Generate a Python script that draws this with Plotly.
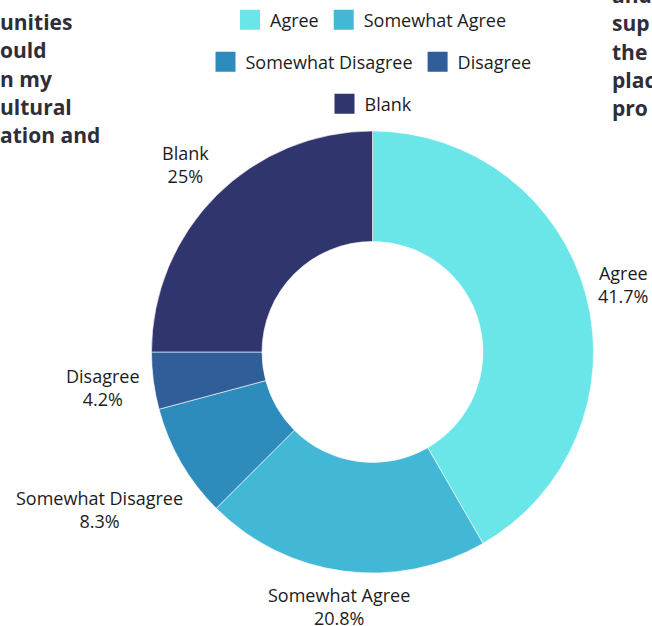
import math
import plotly.graph_objects as go

# ---- data ----
categories = ["Agree", "Somewhat Agree", "Somewhat Disagree", "Disagree", "Blank"]
counts = [10, 5, 2, 1, 6]
colors = ["#6ae5e8", "#42b8d6", "#2d8cbc", "#2f5e98", "#31356d"]
legend_rows = [["Agree", "Somewhat Agree"], ["Somewhat Disagree", "Disagree"], ["Blank"]]
left_title_fragments = ["unities", "ould", "n my", "ultural", "ation and"]
right_title_fragments = ["and", "sup", "the", "plac", "pro"]

W, H = 652, 626
total = sum(counts)
pct_text = [f"{round(v / total * 100, 1):g}%" for v in counts]

FONT = "Open Sans"
TXT = "#1c1c1c"
LBL_SIZE = 18

fig = go.Figure()

cx, cy, R = 372.5, 352, 221
fig.add_trace(go.Pie(
    labels=categories,
    values=counts,
    customdata=pct_text,
    textinfo="none",
    marker=dict(colors=colors, line=dict(color="white", width=0.6)),
    hole=0.5,
    sort=False,
    direction="clockwise",
    rotation=0,
    showlegend=False,
    domain=dict(x=[(cx - R) / W, (cx + R) / W], y=[1 - (cy + R) / H, 1 - (cy - R) / H]),
    hovertemplate="%{label}: %{value} (%{customdata})<extra></extra>",
))

# legend entries (dummy markers, one legend per row)
color_of = dict(zip(categories, colors))
legend_names = ["legend", "legend2", "legend3"]
for li, row in enumerate(legend_rows):
    for name in row:
        fig.add_trace(go.Scatter(
            x=[None], y=[None], mode="markers", name=name,
            marker=dict(symbol="square", size=16, color=color_of[name],
                        line=dict(color=color_of[name], width=4)),
            legend=legend_names[li], hoverinfo="skip",
        ))

legend_y = [20, 62, 104]
leg_common = dict(orientation="h", xanchor="center", x=371 / W, yanchor="middle",
                  font=dict(family=FONT, size=LBL_SIZE, color=TXT), bgcolor="rgba(0,0,0,0)",
                  itemclick=False, itemdoubleclick=False)

annotations = []

# outside slice labels: box centred on the slice's mid-angle ray, pushed clear of the ring
gap = 8
hh = 25
cum = 0
for lab, v, p in zip(categories, counts, pct_text):
    mid = (cum + v / 2) / total * 2 * math.pi
    cum += v
    ux, uy = math.sin(mid), -math.cos(mid)
    hw = max(len(lab), len(p)) * 10.2 / 2
    lo, hi = 0.0, 800.0
    for _ in range(60):
        t = (lo + hi) / 2
        dx = max(abs(t * ux) - hw, 0)
        dy = max(abs(t * uy) - hh, 0)
        if math.hypot(dx, dy) >= R + gap:
            hi = t
        else:
            lo = t
    px, py = cx + hi * ux, cy + hi * uy
    annotations.append(dict(text=f"{lab}<br>{p}", x=px / W, y=1 - py / H,
                            xref="paper", yref="paper", xanchor="center", yanchor="middle",
                            showarrow=False, align="center",
                            font=dict(family=FONT, size=LBL_SIZE, color=TXT)))

for i, t in enumerate(left_title_fragments):
    annotations.append(dict(text=t, x=-2 / W, xref="paper", xanchor="left",
                            y=1 - (22 + i * 28.3) / H, yref="paper", yanchor="middle",
                            showarrow=False, font=dict(family=FONT, size=21, color="#2e2e38", weight="bold")))
for i, t in enumerate(right_title_fragments):
    annotations.append(dict(text=t, x=610 / W, xref="paper", xanchor="left",
                            y=1 - (-5 + i * 28.3) / H, yref="paper", yanchor="middle",
                            showarrow=False, font=dict(family=FONT, size=21, color="#2e2e38", weight="bold")))

fig.update_layout(
    width=W, height=H,
    margin=dict(l=0, r=0, t=0, b=0),
    paper_bgcolor="white", plot_bgcolor="white",
    xaxis=dict(visible=False), yaxis=dict(visible=False),
    legend=dict(y=1 - legend_y[0] / H, **leg_common),
    legend2=dict(y=1 - legend_y[1] / H, **leg_common),
    legend3=dict(y=1 - legend_y[2] / H, **leg_common),
    annotations=annotations,
    font=dict(family=FONT, color=TXT),
)

fig.write_html("out.html")
